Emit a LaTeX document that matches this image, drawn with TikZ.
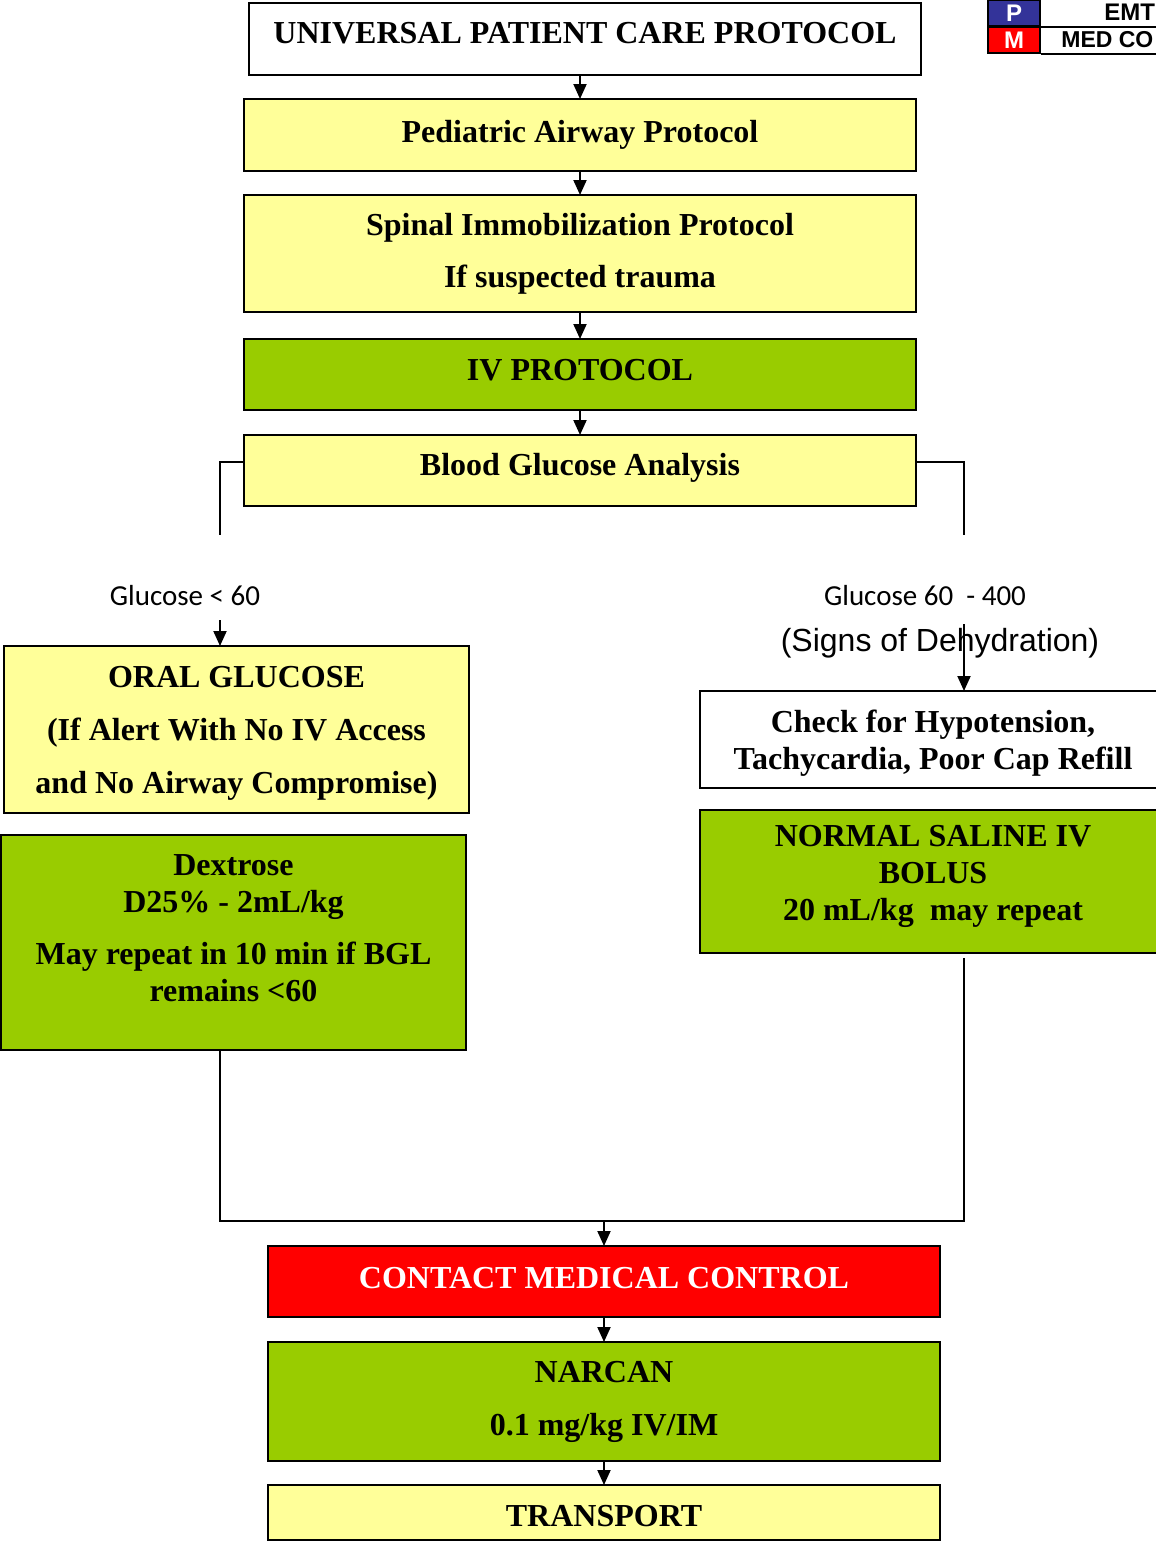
\documentclass[tikz,border=0pt]{standalone}
\usepackage{fontspec}
\setmainfont{Liberation Serif}
\newfontfamily\arialf{Liberation Sans}
\newfontfamily\calibf{Carlito}
\usetikzlibrary{arrows.meta,calc}
\definecolor{yel}{HTML}{FFFF99}
\definecolor{grn}{HTML}{99CC00}
\definecolor{redc}{HTML}{FF0000}
\definecolor{blu}{HTML}{333399}
\newcommand{\dropby}[1]{\rule[-#1]{0pt}{#1}}
\begin{document}
\begin{tikzpicture}[x=0.5pt,y=-0.5pt,>={Triangle[length=7.5pt,width=6.5pt]},
  box/.style={draw,line width=1pt,inner sep=0pt,outer sep=0pt,align=center,
    font=\fontsize{16}{18.5}\selectfont\bfseries},
  wide/.style={box,minimum width=336pt},
  half/.style={box,minimum width=232.5pt},
  legend/.style={draw,line width=1pt,text=white,minimum width=26pt,minimum height=13pt,inner sep=0pt,
    font=\arialf\bfseries\fontsize{12}{13}\selectfont},
  link/.style={line width=1pt}]
\useasboundingbox (0,0) rectangle (1156,1542);
\node[wide,minimum height=36pt] (univ) at (585,39) {UNIVERSAL PATIENT CARE PROTOCOL\dropby{6pt}};
\node[wide,fill=yel,minimum height=36pt] (airway) at (580,135) {Pediatric Airway Protocol};
\node[wide,fill=yel,minimum height=58.5pt] (spinal) at (580,253.5) {Spinal Immobilization Protocol\\[7.5pt] If suspected trauma};
\node[wide,fill=grn,minimum height=35.5pt] (ivp) at (580,374.5) {IV PROTOCOL\dropby{5pt}};
\node[wide,fill=yel,minimum height=35.5pt] (bga) at (580,470.5) {Blood Glucose Analysis\dropby{6pt}};
\node[half,fill=yel,minimum height=83.5pt] (oral) at (236.5,729.5) {\rule{0pt}{14pt}ORAL GLUCOSE\\[8pt] (If Alert With No IV Access\\[8pt] and No Airway Compromise)};
\node[half,fill=grn,minimum height=107.5pt] (dex) at (233.5,942.5) {Dextrose\\ D25\% - 2mL/kg\\[7.5pt] May repeat in 10 min if BGL\\ remains <60\dropby{14pt}};
\node[box,minimum width=233pt,minimum height=48.5pt] (check) at (933,739.5) {\rule{0pt}{15pt}Check for Hypotension,\\ Tachycardia, Poor Cap Refill};
\node[box,fill=grn,minimum width=233pt,minimum height=71.5pt] (sal) at (933,881.5) {NORMAL SALINE IV\\ BOLUS\\ 20 mL/kg\ \ may repeat\dropby{8.5pt}};
\node[wide,fill=redc,text=white,minimum height=35.5pt] (contact) at (604,1281.5) {CONTACT MEDICAL CONTROL\dropby{4pt}};
\node[wide,fill=grn,minimum height=59.5pt] (narcan) at (604,1401.5) {NARCAN\\[8pt] 0.1 mg/kg IV/IM};
\node[wide,fill=yel,minimum height=27.5pt] (transport) at (604,1512.5) {\rule{0pt}{14pt}TRANSPORT};
\node[font=\calibf\fontsize{14.5}{16}\selectfont] (low) at (185,596) {Glucose < 60};
\node[font=\calibf\fontsize{14.5}{16}\selectfont] (mid) at (925,596) {Glucose 60\ \ - 400};
\node[font=\arialf\fontsize{16}{18}\selectfont] (dehyd) at (940,643) {(Signs of Dehydration)};
\node[legend,fill=blu] (pcell) at (1014,13) {P};
\node[legend,fill=redc] (mcell) at (1014,40) {M};
\node[anchor=west,font=\arialf\bfseries\fontsize{12}{13}\selectfont,inner sep=0pt] (emt) at (1104,12) {EMT};
\node[anchor=west,font=\arialf\bfseries\fontsize{11.5}{13}\selectfont,inner sep=0pt] (medco) at (1061,40) {MED CO};
\draw[link] (pcell.north east) -- ++(130,0);
\draw[link] (pcell.south east) -- ++(130,0);
\draw[link] (mcell.south east) -- ++(130,0);
\draw[link,->] (airway.north |- univ.south) -- (airway.north);
\draw[link,->] (airway.south) -- (spinal.north);
\draw[link,->] (spinal.south) -- (ivp.north);
\draw[link,->] (ivp.south) -- (bga.north);
\coordinate (lt) at (220,462);
\coordinate (rt) at (964,462);
\draw[link] (bga.west |- lt) -- (lt) -- (220,535);
\draw[link] (bga.east |- rt) -- (rt) -- (964,535);
\coordinate (lgo) at (220,620);
\coordinate (rgo) at (964,624);
\draw[link,->] (lgo) -- (lgo |- oral.north);
\draw[link,->] (rgo) -- (rgo |- check.north);
\coordinate (lb) at (220,1221);
\coordinate (rb) at (964,1221);
\draw[link] (dex.south -| lb) -- (lb) -- (rb) -- (964,958);
\draw[link,->] (contact.north |- lb) -- (contact.north);
\draw[link,->] (contact.south) -- (narcan.north);
\draw[link,->] (narcan.south) -- (transport.north);
\end{tikzpicture}
\end{document}
